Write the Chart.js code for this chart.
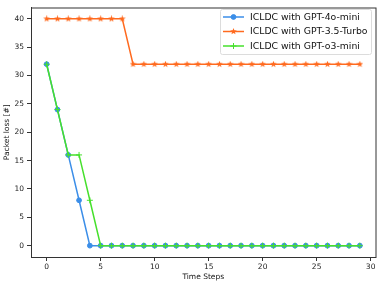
<!DOCTYPE html>
<html>
<head>
<meta charset="utf-8">
<script src="https://cdn.jsdelivr.net/npm/chart.js@4.4.1/dist/chart.umd.min.js"></script>
<style>
  html, body { margin: 0; padding: 0; background: #fff; }
  #wrap { width: 381px; height: 286px; }
</style>
</head>
<body>
<div id="wrap"><canvas id="chart" width="381" height="286"></canvas></div>
<script>
// time steps 0..29
const steps = [0,1,2,3,4,5,6,7,8,9,10,11,12,13,14,15,16,17,18,19,20,21,22,23,24,25,26,27,28,29];
const gpt4oMini = [32,24,16,8,0,0,0,0,0,0,0,0,0,0,0,0,0,0,0,0,0,0,0,0,0,0,0,0,0,0];
const gpt35Turbo = [40,40,40,40,40,40,40,40,32,32,32,32,32,32,32,32,32,32,32,32,32,32,32,32,32,32,32,32,32,32];
const gptO3Mini = [32,24,16,16,8,0,0,0,0,0,0,0,0,0,0,0,0,0,0,0,0,0,0,0,0,0,0,0,0,0];
const xTicks = [0,5,10,15,20,25,30];
const yTicks = [0,5,10,15,20,25,30,35,40];

const BLUE = '#3b8ee8', ORANGE = '#ff6a1f', GREEN = '#46e02c';
const FONT = 'DejaVu Sans';

// filled 5-point star like matplotlib's '*'
function starImage(color, size) {
    const c = document.createElement('canvas');
    c.width = size; c.height = size;
    const g = c.getContext('2d');
    const cx = size / 2, cy = size / 2, R = size / 2, r = R * 0.42;
    g.beginPath();
    for (let i = 0; i < 10; i++) {
        const rad = i % 2 ? r : R;
        const a = -Math.PI / 2 + i * Math.PI / 5;
        g.lineTo(cx + rad * Math.cos(a), cy + rad * Math.sin(a));
    }
    g.closePath();
    g.fillStyle = color;
    g.fill();
    return c;
}
const star = starImage(ORANGE, 7);

const toXY = arr => arr.map((v, i) => ({ x: steps[i], y: v }));

// frame around plot + legend box in upper right
const framePlugin = {
    id: 'frame',
    afterDatasetsDraw(chart) {
        const { ctx, chartArea: a } = chart;
        ctx.save();
        ctx.strokeStyle = '#333';
        ctx.lineWidth = 1;
        ctx.strokeRect(a.left + 0.5, a.top + 0.5, a.right - a.left, a.bottom - a.top);

        // legend
        const bx = 220.5, by = 9.5, bw = 151, bh = 45;
        ctx.fillStyle = 'rgba(255,255,255,0.85)';
        ctx.strokeStyle = '#dcdcdc';
        ctx.beginPath();
        ctx.roundRect(bx, by, bw, bh, 2);
        ctx.fill();
        ctx.stroke();
        ctx.font = '9.3px ' + FONT;
        ctx.textBaseline = 'middle';
        chart.data.datasets.forEach((ds, i) => {
            const y = 17 + i * 14.5;
            ctx.strokeStyle = ds.borderColor;
            ctx.fillStyle = ds.borderColor;
            ctx.lineWidth = 1.5;
            ctx.beginPath();
            ctx.moveTo(223, y);
            ctx.lineTo(244, y);
            ctx.stroke();
            ctx.lineWidth = 1;
            Chart.helpers.drawPoint(ctx, {
                pointStyle: ds.pointStyle, radius: ds.pointRadius, borderWidth: 1, rotation: 0
            }, 233.5, y);
            ctx.fillStyle = '#111';
            ctx.fillText(ds.label, 250, y + 0.5);
        });
        ctx.restore();
    }
};

new Chart(document.getElementById('chart'), {
    type: 'line',
    data: {
        datasets: [{
            label: 'ICLDC with GPT-4o-mini',
            data: toXY(gpt4oMini),
            borderColor: BLUE,
            backgroundColor: BLUE,
            pointStyle: 'circle',
            pointRadius: 2.4,
            pointBorderWidth: 1,
            pointBorderColor: BLUE,
            pointBackgroundColor: BLUE,
            borderWidth: 1.5,
            order: 3
        }, {
            label: 'ICLDC with GPT-3.5-Turbo',
            data: toXY(gpt35Turbo),
            borderColor: ORANGE,
            backgroundColor: ORANGE,
            pointStyle: star,
            pointRadius: 3,
            borderWidth: 1.5,
            order: 2
        }, {
            label: 'ICLDC with GPT-o3-mini',
            data: toXY(gptO3Mini),
            borderColor: GREEN,
            backgroundColor: GREEN,
            pointStyle: 'cross',
            pointRadius: 3,
            pointBorderWidth: 1,
            pointBorderColor: GREEN,
            borderWidth: 1.5,
            order: 1
        }]
    },
    options: {
        responsive: false,
        animation: false,
        layout: { padding: { left: 0, right: 5, top: 5, bottom: 0 } },
        plugins: { legend: { display: false }, tooltip: { enabled: false } },
        scales: {
            x: {
                type: 'linear',
                min: -1.45, max: 30.45,
                afterBuildTicks: s => { s.ticks = xTicks.map(v => ({ value: v })); },
                afterFit: s => { s.height = 29; },
                grid: { drawOnChartArea: false, drawTicks: true, tickLength: 4, color: '#333' },
                border: { display: true, color: '#333' },
                ticks: { color: '#222', font: { family: FONT, size: 7.5 }, padding: 2, maxRotation: 0 },
                title: { display: true, text: 'Time Steps', color: '#111', font: { family: FONT, size: 7.5 }, padding: { top: 0, bottom: 4 } }
            },
            y: {
                min: -2, max: 42,
                afterBuildTicks: s => { s.ticks = yTicks.map(v => ({ value: v })); },
                afterFit: s => { s.width = 31; },
                grid: { drawOnChartArea: false, drawTicks: true, tickLength: 4, color: '#333' },
                border: { display: true, color: '#333' },
                ticks: { color: '#222', font: { family: FONT, size: 7.5 }, padding: 3 },
                title: { display: true, text: 'Packet loss [#]', color: '#111', font: { family: FONT, size: 7.5 }, padding: { top: 3, bottom: 0 } }
            }
        }
    },
    plugins: [framePlugin]
});
</script>
</body>
</html>
